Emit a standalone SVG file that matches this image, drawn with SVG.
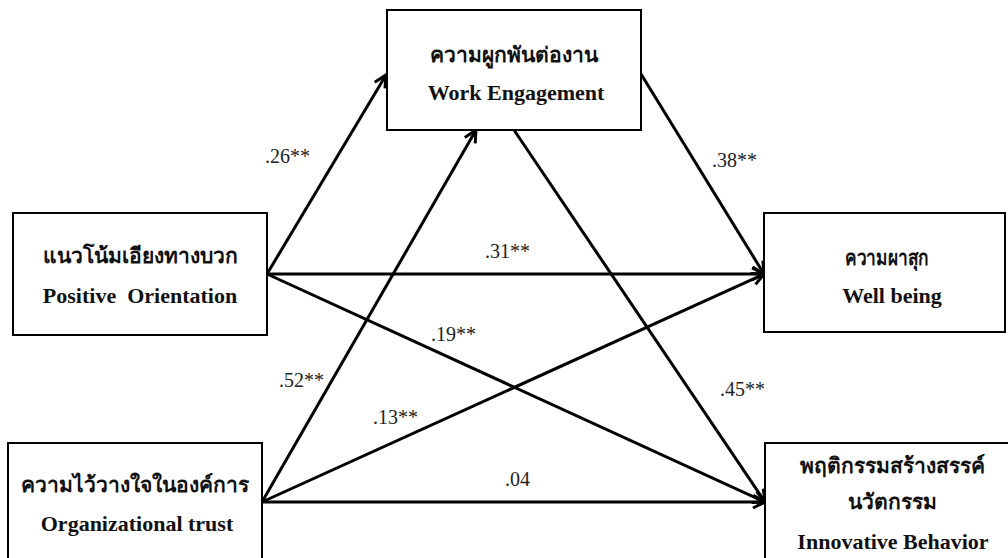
<svg xmlns="http://www.w3.org/2000/svg" width="1008" height="558" viewBox="0 0 1008 558">
<style>
.box{fill:#fff;stroke:#000;stroke-width:2}
.th{font-family:'Liberation Serif','DejaVu Serif',serif;font-weight:bold;font-size:21px;fill:#111;text-anchor:middle}
.en{font-family:'Liberation Serif','DejaVu Serif',serif;font-weight:bold;font-size:22px;fill:#111;text-anchor:middle}
.lbl{font-size:20px;fill:#222}
.arr{stroke:#000;stroke-width:3;fill:none;marker-end:url(#ah)}
</style>
<defs>
<marker id="ah" markerUnits="userSpaceOnUse" markerWidth="16" markerHeight="16" viewBox="0 0 16 16" refX="14" refY="8" orient="auto">
<path d="M2,2 L14,8 L2,14" fill="none" stroke="#000" stroke-width="3"/>
</marker>
</defs>
<rect width="1008" height="558" fill="#fff"/>
<g id="connectors">
<line class="arr" x1="267" y1="274" x2="386" y2="75"/>
<line class="arr" x1="267" y1="274" x2="764" y2="274"/>
<line class="arr" x1="267" y1="274" x2="765" y2="502"/>
<line class="arr" x1="262" y1="502" x2="476" y2="130"/>
<line class="arr" x1="262" y1="502" x2="764" y2="274"/>
<line class="arr" x1="262" y1="502" x2="765" y2="502"/>
<line class="arr" x1="641" y1="74" x2="764" y2="274"/>
<line class="arr" x1="514" y1="130" x2="765" y2="502"/>
<g font-family="Liberation Serif, Times New Roman, serif">
<text class="lbl" x="265" y="163">.26**</text>
<text class="lbl" x="712" y="167">.38**</text>
<text class="lbl" x="485" y="258">.31**</text>
<text class="lbl" x="431" y="341">.19**</text>
<text class="lbl" x="279" y="387">.52**</text>
<text class="lbl" x="373" y="424">.13**</text>
<text class="lbl" x="720" y="396">.45**</text>
<text class="lbl" x="505" y="486">.04</text>
</g>
</g>
<g id="work-engagement">
<rect class="box" x="387" y="10" width="254" height="120"/>
<text class="th" x="514" y="62">ความผูกพันต่องาน</text>
<text class="en" x="516" y="100">Work Engagement</text>
</g>
<g id="positive-orientation">
<rect class="box" x="13" y="213" width="254" height="122"/>
<text class="th" x="140" y="263">แนวโน้มเอียงทางบวก</text>
<text class="en" x="140" y="303" xml:space="preserve">Positive  Orientation</text>
</g>
<g id="organizational-trust">
<rect class="box" x="8" y="443" width="254" height="125"/>
<text class="th" x="135" y="492">ความไว้วางใจในองค์การ</text>
<text class="en" x="137" y="531">Organizational trust</text>
</g>
<g id="well-being">
<rect class="box" x="764" y="213" width="241" height="119"/>
<text class="th" x="887" y="265" textLength="84" lengthAdjust="spacingAndGlyphs">ความผาสุก</text>
<text class="en" x="892" y="303">Well being</text>
</g>
<g id="innovative-behavior">
<rect class="box" x="765" y="443" width="250" height="125"/>
<text class="th" x="892" y="473">พฤติกรรมสร้างสรรค์</text>
<text class="th" x="892" y="509">นวัตกรรม</text>
<text class="en" x="893" y="549">Innovative Behavior</text>
</g>
</svg>
